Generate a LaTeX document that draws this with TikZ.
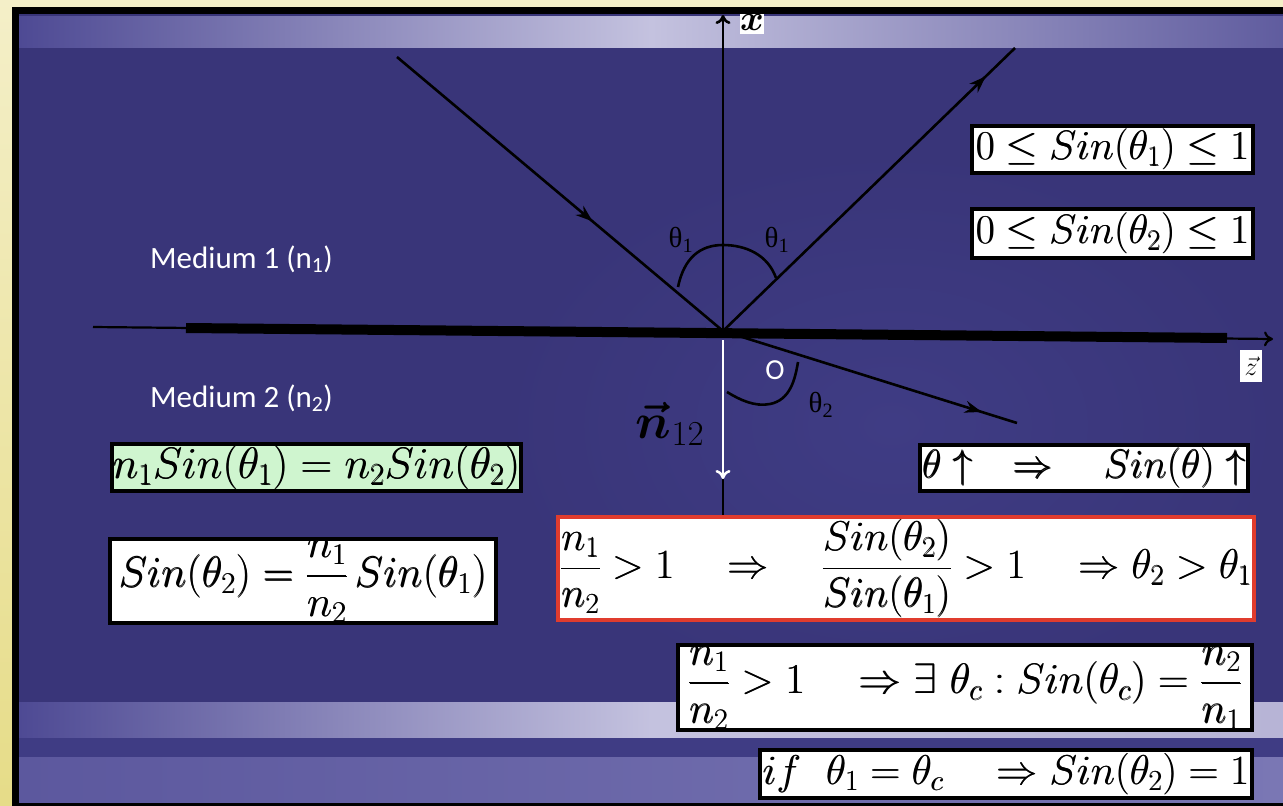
\RequirePackage{fix-cm}
\documentclass[tikz,border=0pt]{standalone}
\usepackage{amsmath}
\usepackage{fontspec}
\newfontfamily\calib{Carlito}
\newfontfamily\timesf{Liberation Serif}
\usetikzlibrary{arrows.meta,decorations.markings}
\definecolor{slide}{HTML}{393579}
\definecolor{slidelight}{HTML}{3F3C84}
\definecolor{frametop}{HTML}{F4EFC8}
\definecolor{framebot}{HTML}{E6DC88}
\definecolor{bandA}{HTML}{4E4A94}
\definecolor{bandB}{HTML}{C4C2DF}
\definecolor{bandC}{HTML}{B7B4D6}
\definecolor{bandD}{HTML}{5C589E}
\definecolor{bandE}{HTML}{7A77B4}
\definecolor{boxgreen}{HTML}{CFF5CF}
\definecolor{boxred}{HTML}{E03C2E}
\newcommand{\eqsize}[1]{\fontsize{#1}{#1}\selectfont}
\newcommand{\heavy}[1]{\leavevmode\rlap{\raisebox{0.35pt}{#1}}\hspace{0.6pt}#1}
\tikzset{
  ray/.style={line width=2.6pt, black},
  axisline/.style={line width=2.6pt, black},
  midarrow/.style={decoration={markings, mark=at position #1 with {\arrow{Stealth[length=17pt,width=12pt]}}}, postaction={decorate}},
  anglearc/.style={line width=2.6pt, black},
  eqbox/.style={draw=black, line width=4pt, fill=white, inner sep=0pt},
  eqtext/.style={inner sep=0pt, text=black, font=\eqsize{#1}},
  medlabel/.style={text=white, font=\calib\fontsize{31}{36}\selectfont, anchor=base west, inner sep=0pt},
  thlabel/.style={text=black, font=\timesf\fontsize{29}{30}\selectfont, inner sep=0pt},
}
\begin{document}
\begin{tikzpicture}[x=1pt,y=-1pt]
\useasboundingbox (0,0) rectangle (1283,806);
% frame and slide background
\shade[top color=frametop, bottom color=framebot] (0,0) rectangle (1283,806);
\fill[black] (12,7) rectangle (1283,806);
\fill[slide] (19,14) rectangle (1283,802);
\shade[inner color=slidelight, outer color=slide] (500,150) rectangle (1283,700);
\shade[left color=bandA, right color=bandA!90!white, middle color=bandB] (19,16) rectangle (1283,47);
\shade[left color=bandA, right color=bandC, middle color=bandB] (19,702) rectangle (1283,738);
\fill[slidelight] (19,738) rectangle (1283,757);
\shade[left color=bandD, right color=bandE] (19,757) rectangle (1283,802);

% coordinates
\coordinate (O) at (723,331);
\coordinate (xtip) at (723,15);
\coordinate (zs) at (93,327);
\coordinate (ze) at (1273,339);
\coordinate (ts) at (186,328);
\coordinate (te) at (1227,338);
\coordinate (inc) at (397,57);
\coordinate (refl) at (1015,48);
\coordinate (refr) at (1017,423);
\coordinate (nstart) at (723,340);
\coordinate (nend) at (723,479);
\coordinate (axbot) at (723,516);

% x label (clipped by frame)
\node[fill=white, inner sep=0pt, minimum width=23pt, minimum height=24pt, font=\fontsize{36}{36}\selectfont\boldmath] (xlab) at (752,22) {$x$};
\fill[black] (12,7) rectangle (1283,14);

% axes
\draw[line width=2.2pt, -{To[length=9pt,width=15pt]}] (zs) -- (ze);
\draw[line width=10pt] (ts) -- (te);
\draw[axisline, -{To[length=9pt,width=15pt]}] (O) -- (xtip);
\draw[axisline] (nend) -- (axbot);
\draw[white, line width=2.5pt, -{To[length=9pt,width=15pt]}] (nstart) -- (nend);

% rays
\draw[ray, midarrow=0.6] (inc) -- (O);
\draw[ray, midarrow=0.9] (O) -- (refl);
\draw[ray, midarrow=0.88] (O) -- (refr);

% angle arcs
\draw[anglearc] (678,287) .. controls (684,258) and (700,245) .. (723,245) .. controls (746,245) and (768,255) .. (776,278);
\draw[anglearc] (727,392) .. controls (740,400) and (755,407) .. (770,404) .. controls (790,400) and (795,380) .. (798,362);

% angle labels
\node[thlabel] (th1a) at (681,240) {θ\textsubscript{1}};
\node[thlabel] (th1b) at (777,240) {θ\textsubscript{1}};
\node[thlabel] (th2) at (821,405) {θ\textsubscript{2}};
\node[text=white, font=\calib\fontsize{29}{32}\selectfont, inner sep=0pt] (olab) at (775,370) {O};
\node[inner sep=0pt, font=\fontsize{50}{56}\selectfont] (nlab) at (670,424) {$\boldsymbol{\vec{n}}_{12}$};
\node[fill=white, inner sep=0pt, minimum width=22pt, minimum height=32pt, font=\fontsize{26}{26}\selectfont] (zlab) at (1251,366) {$\vec{z}$};

% medium labels
\node[medlabel] (m1) at (150,268) {Medium 1 (n\textsubscript{1})};
\node[medlabel] (m2) at (150,407) {Medium 2 (n\textsubscript{2})};

% equation boxes (frames)
\node[eqbox, minimum width=281pt, minimum height=47pt] (b1) at (1112.5,149.5) {};
\node[eqbox, minimum width=281pt, minimum height=49pt] (b2) at (1112.5,233.5) {};
\node[eqbox, minimum width=328pt, minimum height=46pt] (b3) at (1084,468) {};
\node[eqbox, fill=boxgreen, minimum width=409pt, minimum height=47pt] (b4) at (316.5,467.5) {};
\node[eqbox, minimum width=386pt, minimum height=84pt] (b5) at (303,581) {};
\node[eqbox, draw=boxred, minimum width=696pt, minimum height=103pt] (b6) at (906,568.5) {};
\node[eqbox, minimum width=574pt, minimum height=85pt] (b7) at (965,687.5) {};
\node[eqbox, minimum width=492pt, minimum height=48pt] (b8) at (1006,774) {};

% equation texts
\node[eqtext=41] (t1) at (b1.center) {\heavy{$0\le Sin(\theta_1)\le 1$}};
\node[eqtext=41] (t2) at (b2.center) {\heavy{$0\le Sin(\theta_2)\le 1$}};
\node[eqtext=40] (t3) at (b3.center) {\heavy{$\theta\uparrow\quad\Rightarrow\quad Sin(\theta)\uparrow$}};
\node[eqtext=44] (t4) at (b4.center) {\heavy{$n_1Sin(\theta_1)=n_2Sin(\theta_2)$}};
\node[eqtext=43] (t5) at (303,581) {\heavy{$Sin(\theta_2)=\dfrac{n_1}{n_2}\,Sin(\theta_1)$}};
\node[eqtext=41.5] (t6) at (b6.center) {\heavy{$\dfrac{n_1}{n_2}>1\quad\Rightarrow\quad\dfrac{Sin(\theta_2)}{Sin(\theta_1)}>1\quad\Rightarrow\theta_2>\theta_1$}};
\node[eqtext=42.5] (t7) at (965,688) {\heavy{$\dfrac{n_1}{n_2}>1\quad\Rightarrow\exists\ \theta_c:Sin(\theta_c)=\dfrac{n_2}{n_1}$}};
\node[eqtext=41.5] (t8) at (b8.center) {\heavy{$if\ \ \theta_1=\theta_c\quad\Rightarrow Sin(\theta_2)=1$}};
\end{tikzpicture}
\end{document}
